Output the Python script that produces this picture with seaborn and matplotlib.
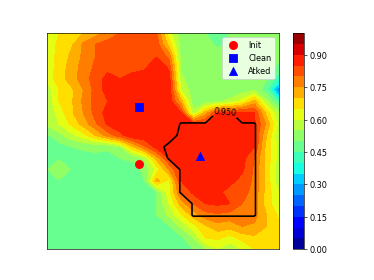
import numpy as np
import matplotlib
matplotlib.use("Agg")
import matplotlib.pyplot as plt
import seaborn as sns

sns.reset_orig()

accuracy_rows = [
    [.62,.65,.68,.70,.73,.77,.80,.83,.83,.80,.62,.52,.52,.50,.48,.50,.52,.52,.52,.52],
    [.62,.66,.69,.76,.80,.82,.83,.84,.84,.83,.68,.53,.52,.52,.49,.51,.52,.52,.52,.52],
    [.63,.66,.71,.76,.80,.82,.83,.84,.84,.845,.78,.53,.52,.52,.52,.52,.52,.52,.52,.51],
    [.62,.67,.72,.77,.81,.83,.84,.84,.84,.89,.84,.54,.52,.52,.52,.52,.52,.52,.52,.49],
    [.61,.68,.72,.78,.82,.87,.85,.86,.88,.89,.88,.56,.52,.52,.52,.52,.52,.52,.505,.42],
    [.57,.65,.69,.75,.82,.87,.89,.89,.89,.89,.89,.60,.52,.52,.52,.52,.52,.54,.47,.25],
    [.56,.65,.69,.76,.82,.85,.89,.89,.89,.89,.89,.72,.52,.52,.54,.56,.62,.72,.56,.44],
    [.55,.62,.69,.75,.82,.87,.89,.89,.89,.89,.89,.85,.56,.72,.85,.86,.86,.85,.68,.55],
    [.56,.60,.66,.72,.79,.86,.89,.89,.89,.89,.89,.89,.86,.86,.87,.87,.87,.86,.74,.58],
    [.49,.53,.58,.63,.70,.77,.83,.89,.89,.89,.89,.89,.89,.89,.89,.89,.89,.85,.70,.57],
    [.47,.48,.50,.505,.51,.505,.55,.69,.79,.87,.89,.89,.89,.89,.89,.89,.89,.85,.68,.58],
    [.49,.498,.49,.49,.49,.49,.50,.505,.56,.72,.85,.89,.89,.89,.89,.89,.87,.80,.68,.58],
    [.498,.52,.498,.49,.49,.49,.49,.49,.505,.62,.75,.87,.89,.89,.89,.89,.86,.79,.68,.57],
    [.49,.498,.49,.49,.49,.49,.49,.49,.50,.72,.63,.85,.89,.89,.89,.87,.83,.79,.68,.57],
    [.49,.49,.49,.49,.49,.49,.49,.49,.49,.50,.63,.80,.86,.89,.87,.82,.82,.78,.68,.60],
    [.49,.49,.49,.49,.49,.49,.49,.49,.49,.50,.60,.72,.80,.85,.86,.85,.80,.78,.67,.62],
    [.49,.49,.49,.49,.49,.49,.49,.49,.49,.50,.56,.64,.72,.78,.79,.78,.78,.77,.70,.64],
    [.49,.49,.49,.49,.49,.49,.49,.49,.49,.49,.495,.56,.63,.69,.73,.72,.75,.74,.70,.66],
    [.49,.49,.49,.49,.49,.49,.49,.49,.49,.49,.47,.49,.55,.65,.66,.63,.67,.69,.68,.66],
    [.49,.49,.49,.49,.49,.49,.49,.49,.49,.49,.48,.48,.50,.55,.60,.56,.60,.65,.67,.66],
]

robust_rows = [
    [.5]*20, [.5]*20, [.5]*20, [.5]*20, [.5]*20, [.5]*20, [.5]*20,
    [.5,.5,.5,.5,.5,.5,.5,.5,.5,.5,.5,.5,.5,.5,1,1,.5,.5,.5,.5],
    [.5,.5,.5,.5,.5,.5,.5,.5,.5,.5,.5,1,1,1,1,1,1,1,.5,.5],
    [.5,.5,.5,.5,.5,.5,.5,.5,.5,.5,.85,1,1,1,1,1,1,1,.5,.5],
    [.5,.5,.5,.5,.5,.5,.5,.5,.5,.875,1,1,1,1,1,1,1,1,.5,.5],
    [.5,.5,.5,.5,.5,.5,.5,.5,.5,.5,1,1,1,1,1,1,1,1,.5,.5],
    [.5,.5,.5,.5,.5,.5,.5,.5,.5,.5,.5,1,1,1,1,1,1,1,.5,.5],
    [.5,.5,.5,.5,.5,.5,.5,.5,.5,.5,.5,1,1,1,1,1,1,1,.5,.5],
    [.5,.5,.5,.5,.5,.5,.5,.5,.5,.5,.5,1,1,1,1,1,1,1,.5,.5],
    [.5,.5,.5,.5,.5,.5,.5,.5,.5,.5,.5,.5,1,1,1,1,1,1,.5,.5],
    [.5,.5,.5,.5,.5,.5,.5,.5,.5,.5,.5,.5,1,1,1,1,1,1,.5,.5],
    [.5]*20, [.5]*20, [.5]*20,
]

point_names = ["Init", "Clean", "Atked"]
point_x = [7.53, 7.53, 12.53]
point_y = [11.52, 6.5, 10.8]
point_colors = ["red", "blue", "blue"]
point_markers = ["o", "s", "^"]
contour_level = [0.95]
label_spot = [(14.6, 7.0)]

fig, ax = plt.subplots(figsize=(6.4, 4.8), dpi=58.45)
Z = np.array(accuracy_rows)
W = np.array(robust_rows)
gx = np.arange(Z.shape[1])
gy = np.arange(Z.shape[0])

filled = ax.contourf(gx, gy, Z, levels=np.linspace(0, 1, 21), cmap="jet", vmin=0, vmax=1)
lines = ax.contour(gx, gy, W, levels=contour_level, colors="black", linewidths=2)
ax.set_xlim(gx[0], gx[-1])
ax.set_ylim(gy[-1], gy[0])
ax.clabel(lines, fmt="%.3f", manual=label_spot, fontsize=10, inline=True)

for name, x, y, c, m in zip(point_names, point_x, point_y, point_colors, point_markers):
    sns.scatterplot(x=[x], y=[y], color=c, marker=m, s=100, linewidth=1, edgecolor=c,
                    label=name, ax=ax, zorder=5)

ax.set_xlim(gx[0], gx[-1])
ax.set_ylim(gy[-1], gy[0])
ax.set_xticks([])
ax.set_yticks([])
ax.set_xlabel("")
ax.set_ylabel("")
ax.legend(loc="upper right")
fig.colorbar(filled, ax=ax)
fig.savefig("out.png", dpi=58.45)
